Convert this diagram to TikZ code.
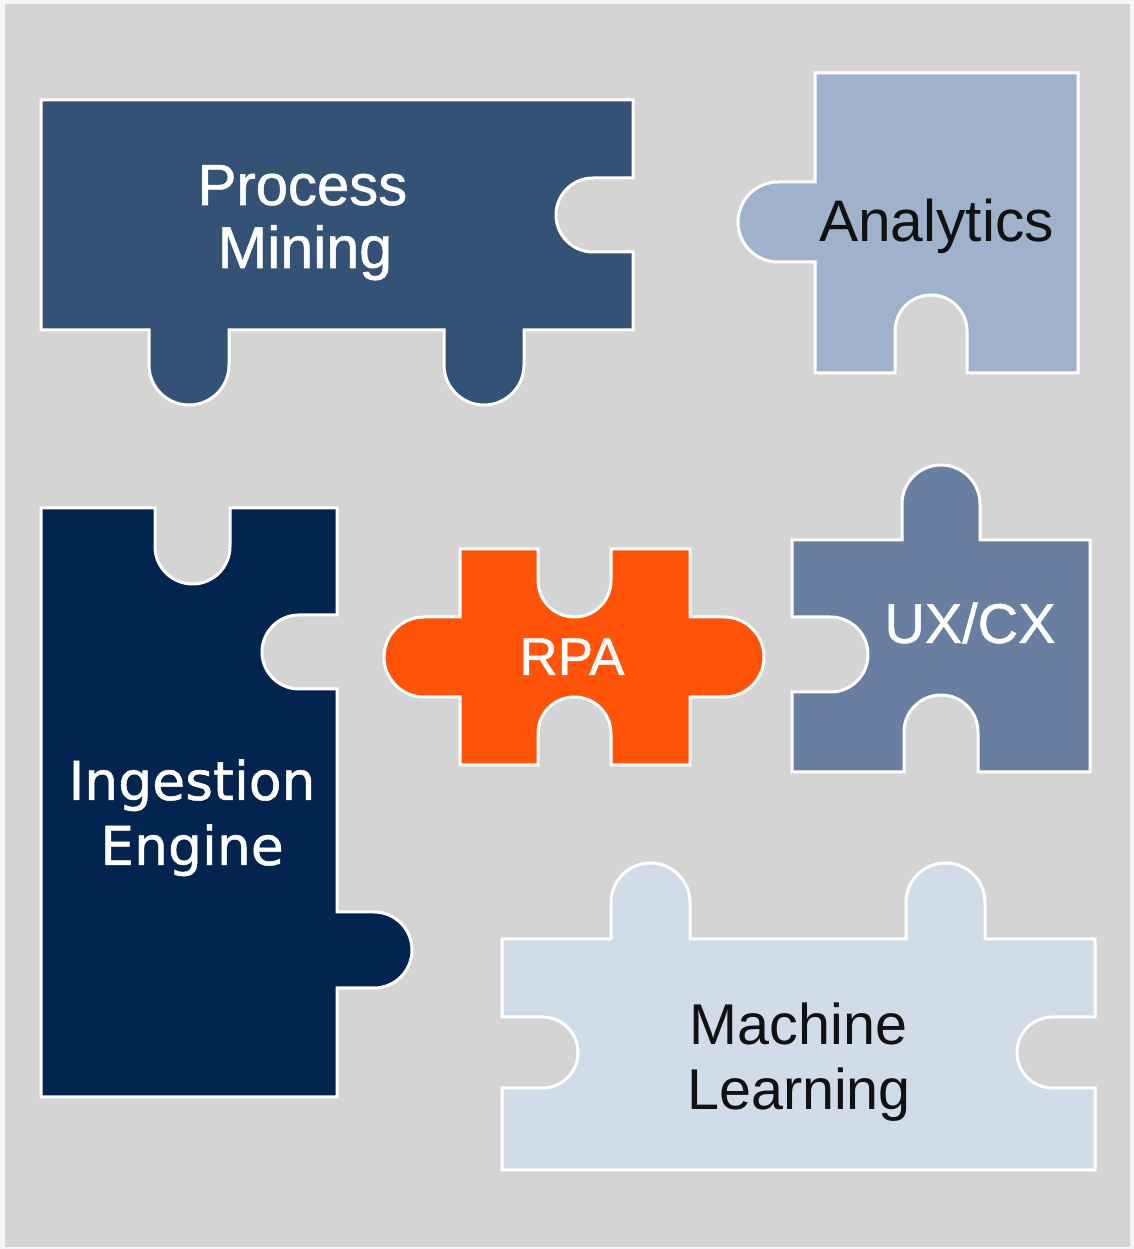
\documentclass[tikz,border=0pt]{standalone}
\usepackage{fontspec}
\setmainfont{Liberation Sans}
\newfontfamily\lightsans[FakeBold=0.9]{Liberation Sans}
\newfontfamily\verdanalike[FakeBold=0.9]{DejaVu Sans}
\definecolor{outerbg}{HTML}{F3F5F9}
\definecolor{panelbg}{HTML}{D4D4D4}
\definecolor{pmblue}{HTML}{345276}
\definecolor{anblue}{HTML}{A0B2CB}
\definecolor{ingblue}{HTML}{02244F}
\definecolor{rpaorange}{HTML}{FF530A}
\definecolor{uxblue}{HTML}{687FA1}
\definecolor{mlblue}{HTML}{D0DDE8}
\definecolor{darktext}{HTML}{111111}
\tikzset{
  piece/.style={draw=white, line width=1.8pt, line join=miter},
  lbl/.style={anchor=base, inner sep=0pt, outer sep=0pt},
}
\begin{document}
\begin{tikzpicture}[x=0.6pt, y=0.6pt]
\useasboundingbox (0,0) rectangle (1134,1249);
\fill[outerbg] (0,0) rectangle (1134,1249);
\fill[panelbg] (5,2) rectangle (1130,1245);

% Process Mining
\path[piece, fill=pmblue] (41,1149) -- (633,1149) -- (633,1071) -- (593,1071)
  arc[start angle=90, end angle=270, radius=37] -- (633,997) -- (633,919)
  -- (524,919) -- (524,884) arc[start angle=0, end angle=-180, radius=40]
  -- (444,919) -- (229,919) -- (229,884) arc[start angle=0, end angle=-180, radius=40]
  -- (149,919) -- (41,919) -- cycle;

% Analytics
\path[piece, fill=anblue] (815,1176) -- (1078,1176) -- (1078,876) -- (967,876)
  -- (967,918) arc[start angle=0, end angle=180, radius=36] -- (895,876)
  -- (815,876) -- (815,987) -- (778,987)
  arc[start angle=-90, end angle=-270, radius=40] -- (815,1067) -- cycle;

% Ingestion Engine
\path[piece, fill=ingblue] (41,741) -- (155,741) -- (155,702.5)
  arc[start angle=180, end angle=360, radius=37.5] -- (230,741) -- (337,741)
  -- (337,634) -- (299,634) arc[start angle=90, end angle=270, radius=37]
  -- (337,560) -- (337,337) -- (374,337) arc[start angle=90, end angle=-90, radius=38]
  -- (337,261) -- (337,152) -- (41,152) -- cycle;

% RPA
\path[piece, fill=rpaorange] (460,700) -- (538,700) -- (538,668.5)
  arc[start angle=180, end angle=360, radius=36.5] -- (611,700) -- (690,700)
  -- (690,632) -- (724,632) arc[start angle=90, end angle=-90, radius=40]
  -- (690,552) -- (690,484) -- (611,484) -- (611,515.5)
  arc[start angle=0, end angle=180, radius=36.5] -- (538,484) -- (460,484)
  -- (460,552) -- (424,552) arc[start angle=-90, end angle=-270, radius=40]
  -- (460,632) -- cycle;

% UX/CX
\path[piece, fill=uxblue] (792,709) -- (902,709) -- (902,745)
  arc[start angle=180, end angle=0, radius=39] -- (980,709) -- (1090,709)
  -- (1090,477) -- (978,477) -- (978,517)
  arc[start angle=0, end angle=180, radius=37] -- (904,477) -- (792,477)
  -- (792,557) -- (830.5,557) arc[start angle=-90, end angle=90, radius=37.5]
  -- (792,632) -- cycle;

% Machine Learning
\path[piece, fill=mlblue] (502,310) -- (611,310) -- (611,346.5)
  arc[start angle=180, end angle=0, radius=39.5] -- (690,310) -- (906,310)
  -- (906,346.5) arc[start angle=180, end angle=0, radius=39.5] -- (985,310)
  -- (1095,310) -- (1095,232) -- (1052.5,232)
  arc[start angle=90, end angle=270, radius=35.5] -- (1095,161) -- (1095,79)
  -- (502,79) -- (502,161) -- (542.5,161)
  arc[start angle=-90, end angle=90, radius=35.5] -- (502,232) -- cycle;

% Labels
\node[lbl, text=white, font=\lightsans\fontsize{34.8}{40}\selectfont] (pm1) at (302.5,1044) {Process};
\node[lbl, text=white, font=\lightsans\fontsize{35.5}{40}\selectfont] (pm2) at (305,981) {Mining};
\node[lbl, text=darktext, font=\fontsize{35.2}{40}\selectfont] (an) at (936.5,1007) {Analytics};
\node[lbl, text=white, font=\verdanalike\fontsize{32.1}{38}\selectfont] (ing1) at (192,449) {Ingestion};
\node[lbl, text=white, font=\verdanalike\fontsize{32.1}{38}\selectfont] (ing2) at (192,384) {Engine};
\node[lbl, text=white, font=\lightsans\fontsize{31.8}{36}\selectfont] (rpa) at (572,574) {RPA};
\node[lbl, text=white, font=\lightsans\fontsize{33.6}{38}\selectfont] (ux) at (970,606) {UX/CX};
\node[lbl, text=darktext, font=\fontsize{34.5}{40}\selectfont] (ml1) at (798.5,204) {Machine};
\node[lbl, text=darktext, font=\fontsize{34.5}{40}\selectfont] (ml2) at (799,139) {Learning};
\end{tikzpicture}
\end{document}
